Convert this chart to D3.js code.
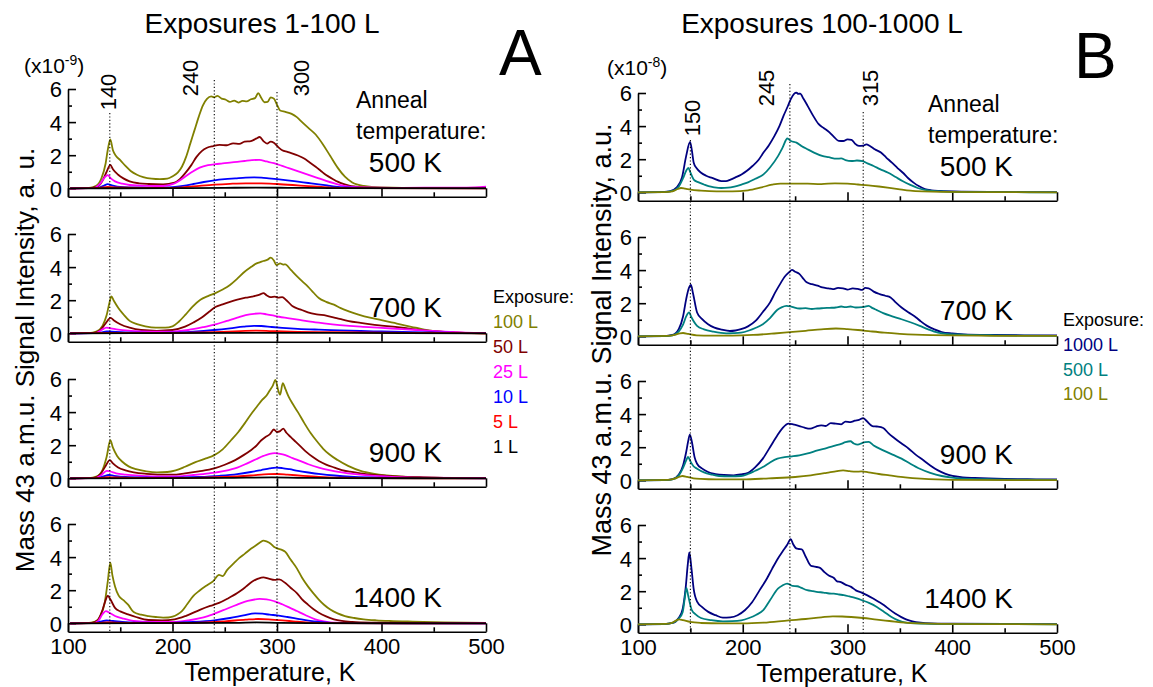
<!DOCTYPE html>
<html>
<head>
<meta charset="utf-8">
<script src="https://d3js.org/d3.v7.min.js"></script>
<style>
body { margin: 0; background: #fff; }
svg text { font-family: "Liberation Sans", Arial, sans-serif; fill: #000; }
</style>
</head>
<body>
<div id="chart"></div>
<script>
// ---- tick values and labels ----
var xTicks = [100, 200, 300, 400, 500];
var xMinor = [150, 250, 350, 450];
var yTicks = [0, 2, 4, 6];
var yMinor = [1, 3, 5];
var annealLabels = ["500 K", "700 K", "900 K", "1400 K"];
var exposuresA = ["100 L", "50 L", "25 L", "10 L", "5 L", "1 L"];
var exposuresB = ["1000 L", "500 L", "100 L"];
var peaksA = [140, 240, 300];
var peaksB = [150, 245, 315];

// ---- panel A (x1e-9), [temperature K, intensity] ----
// anneal 500 K
var a500_100 = [[102,0],[120,0.02],[127,0.15],[132,0.6],[136,1.5],[138,2.3],[140.5,2.95],[143,2.3],[146,1.95],[150,1.7],[155,1.35],[160,1.05],[166,0.82],[172,0.68],[180,0.58],[188,0.55],[195,0.58],[200,0.72],[205,0.95],[209,1.3],[213,1.9],[217,2.7],[221,3.5],[225,4.3],[229,5.0],[233,5.4],[237,5.55],[240,5.5],[243,5.58],[247,5.42],[251,5.35],[255,5.22],[259,5.3],[263,5.18],[267,5.28],[271,5.25],[275,5.38],[279,5.45],[282,5.75],[285,5.45],[288,5.2],[291,5.22],[294,5.5],[297,5.42],[300,5.05],[303,4.7],[308,4.62],[314,4.5],[319,4.3],[324,4.0],[330,3.65],[337,3.25],[344,2.65],[351,1.95],[358,1.25],[365,0.7],[372,0.35],[383,0.14],[400,0.05],[440,0.01],[480,0.02],[500,0.04]];
var a500_50 = [[102,0],[120,0.01],[128,0.1],[133,0.45],[137,1.0],[140.5,1.41],[143,1.15],[148,0.82],[153,0.6],[159,0.42],[168,0.3],[177,0.26],[191,0.24],[202,0.34],[207,0.55],[212,0.9],[218,1.4],[223,1.9],[228,2.25],[233,2.45],[239,2.55],[245,2.62],[252,2.6],[258,2.72],[264,2.68],[269,2.82],[275,2.85],[280,3.0],[283.5,3.1],[287,2.85],[290.5,2.7],[294,2.82],[297,2.75],[301,2.5],[305,2.3],[310,2.2],[315,2.1],[320,1.98],[326,1.8],[331,1.58],[337,1.3],[342,1.05],[347,0.8],[353,0.58],[358,0.4],[364,0.25],[369,0.16],[383,0.06],[400,0.02],[500,0.02]];
var a500_25 = [[102,0],[125,0.03],[131,0.3],[135,0.65],[138,0.8],[141,0.6],[145,0.42],[152,0.28],[159,0.2],[175,0.15],[191,0.14],[200,0.25],[205,0.4],[212,0.7],[219,1.0],[226,1.25],[234,1.4],[241,1.46],[248,1.5],[255,1.55],[262,1.6],[269,1.65],[276,1.7],[283,1.72],[290,1.62],[297,1.52],[305,1.35],[312,1.2],[319,1.05],[326,0.9],[333,0.75],[340,0.6],[347,0.45],[355,0.3],[362,0.18],[369,0.1],[385,0.05],[420,0.03],[470,0.04],[490,0.06],[500,0.1]];
var a500_10 = [[102,0],[128,0.02],[134,0.15],[138,0.25],[142,0.18],[150,0.08],[170,0.04],[190,0.03],[200,0.07],[210,0.15],[220,0.26],[230,0.38],[240,0.48],[250,0.55],[260,0.6],[270,0.65],[278,0.66],[285,0.64],[292,0.6],[300,0.55],[310,0.48],[320,0.4],[330,0.32],[340,0.24],[348,0.17],[356,0.1],[365,0.05],[380,0.02],[500,0.01]];
var a500_5 = [[102,0],[130,0.02],[138,0.08],[145,0.05],[170,0.02],[200,0.03],[220,0.12],[240,0.22],[255,0.27],[270,0.3],[285,0.3],[300,0.26],[315,0.2],[330,0.13],[345,0.07],[360,0.03],[380,0.01],[500,0]];
var a500_1 = [[102,0],[200,0.01],[250,0.03],[280,0.04],[310,0.03],[350,0.01],[500,0]];
// anneal 700 K
var a700_100 = [[102,0],[120,0.01],[127,0.1],[133,0.45],[137,1.1],[139.5,1.8],[141.5,2.23],[144,1.95],[148.5,1.5],[153,1.15],[159,0.75],[166,0.55],[174,0.42],[184,0.34],[193,0.34],[200,0.42],[206,0.7],[212.5,1.13],[219,1.6],[226.7,2.03],[234,2.25],[241,2.43],[248,2.65],[255,2.92],[262,3.3],[269,3.72],[275,4.0],[280,4.21],[284,4.3],[287,4.37],[291,4.45],[294,4.57],[297,4.4],[299.5,4.12],[303,4.22],[306,4.15],[308,4.17],[313,3.85],[319,3.46],[324,3.15],[329.6,2.82],[335,2.45],[340,2.13],[347,1.9],[354.5,1.73],[361,1.52],[368.7,1.33],[378,1.13],[390,0.93],[400,0.8],[411,0.64],[422,0.48],[432.6,0.34],[441,0.22],[450,0.14],[468,0.04],[485,0.01],[500,0]];
var a700_50 = [[102,0],[125,0.02],[131,0.2],[136,0.6],[140.8,0.93],[144,0.78],[150,0.55],[159,0.34],[170,0.2],[185,0.15],[200,0.2],[212,0.4],[220,0.65],[228,0.95],[235,1.3],[241,1.59],[248,1.75],[255,1.9],[262,2.03],[270,2.15],[276,2.22],[280,2.27],[284,2.35],[287,2.43],[290,2.3],[294,2.19],[298,2.22],[301,2.15],[305,2.19],[309,2.0],[315,1.63],[322,1.45],[329.6,1.27],[338,1.15],[347,1.07],[357,0.92],[368.7,0.74],[380,0.63],[390,0.54],[400,0.47],[411,0.4],[422,0.32],[432,0.24],[446,0.15],[461,0.08],[480,0.02],[500,0]];
var a700_25 = [[102,0],[127,0.03],[132,0.2],[137,0.34],[141,0.3],[148,0.22],[160,0.15],[180,0.1],[200,0.1],[215,0.2],[230,0.38],[242,0.55],[252,0.75],[262,0.95],[270,1.1],[278,1.18],[284,1.2],[290,1.15],[296,1.08],[302,1.0],[310,0.92],[320,0.82],[332,0.7],[345,0.6],[360,0.5],[380,0.4],[400,0.33],[420,0.25],[440,0.18],[460,0.1],[480,0.04],[500,0.01]];
var a700_10 = [[102,0],[130,0.03],[137,0.12],[142,0.1],[155,0.05],[180,0.03],[200,0.04],[220,0.1],[240,0.2],[255,0.3],[268,0.4],[278,0.45],[285,0.44],[295,0.38],[305,0.33],[320,0.27],[340,0.22],[360,0.18],[380,0.14],[400,0.11],[430,0.07],[460,0.04],[500,0.01]];
var a700_5 = [[102,0],[135,0.03],[150,0.02],[200,0.02],[240,0.07],[265,0.13],[280,0.16],[295,0.13],[320,0.09],[350,0.07],[400,0.04],[450,0.02],[500,0]];
var a700_1 = [[102,0],[280,0.03],[350,0.02],[500,0]];
// anneal 900 K
var a900_100 = [[102,0],[120,0.01],[127,0.1],[133,0.5],[137,1.3],[140.5,2.3],[143,1.85],[147,1.35],[152,1.0],[158,0.72],[165,0.55],[175,0.42],[185,0.36],[195,0.38],[203,0.48],[212,0.7],[222,0.98],[232,1.2],[240,1.4],[248,1.75],[256,2.3],[263,2.8],[270,3.4],[276,3.95],[281,4.35],[286,4.75],[290,5.0],[293,5.3],[296,5.6],[298.5,5.95],[301,5.35],[303,5.05],[305.5,5.75],[308,5.4],[311,4.95],[315,4.5],[320,4.0],[326,3.35],[332,2.75],[338,2.25],[344,1.8],[350,1.45],[358,1.1],[368,0.75],[380,0.45],[392,0.28],[405,0.17],[420,0.1],[450,0.04],[500,0.01]];
var a900_50 = [[102,0],[125,0.02],[131,0.25],[136,0.75],[140,1.1],[143,0.9],[148,0.65],[155,0.48],[163,0.36],[175,0.27],[188,0.22],[200,0.22],[212,0.3],[225,0.42],[240,0.6],[250,0.82],[260,1.1],[268,1.4],[275,1.7],[280,1.95],[285,2.3],[289,2.5],[293,2.65],[297,2.95],[300,2.8],[303,2.85],[306,3.0],[309,2.75],[313,2.5],[318,2.2],[323,1.9],[328,1.6],[334,1.3],[340,1.05],[347,0.83],[355,0.65],[362,0.5],[370,0.4],[380,0.3],[390,0.22],[405,0.15],[420,0.1],[440,0.06],[460,0.03],[500,0.01]];
var a900_25 = [[102,0],[127,0.03],[132,0.2],[137,0.45],[140,0.42],[146,0.3],[155,0.22],[170,0.15],[190,0.11],[205,0.12],[220,0.2],[235,0.3],[250,0.45],[262,0.65],[272,0.92],[280,1.15],[287,1.35],[293,1.48],[298,1.52],[303,1.48],[308,1.4],[315,1.22],[322,1.05],[330,0.85],[340,0.65],[350,0.5],[362,0.36],[375,0.25],[390,0.16],[410,0.09],[440,0.04],[500,0.01]];
var a900_10 = [[102,0],[128,0.02],[134,0.12],[139,0.2],[144,0.15],[155,0.08],[175,0.05],[200,0.04],[225,0.08],[245,0.15],[262,0.25],[275,0.38],[285,0.5],[293,0.6],[299,0.65],[305,0.62],[312,0.55],[320,0.45],[330,0.35],[342,0.25],[355,0.17],[370,0.1],[390,0.05],[420,0.02],[500,0]];
var a900_5 = [[102,0],[130,0.02],[138,0.07],[146,0.05],[170,0.02],[220,0.03],[250,0.08],[275,0.17],[292,0.25],[300,0.26],[310,0.22],[325,0.15],[340,0.09],[360,0.04],[390,0.01],[500,0]];
var a900_1 = [[102,0],[250,0.02],[295,0.05],[320,0.03],[360,0.01],[500,0]];
// anneal 1400 K
var a1400_100 = [[102,0],[118,0.01],[126,0.1],[131,0.45],[135,1.2],[138,2.5],[140.5,3.66],[142.5,2.9],[145,2.23],[148.5,1.67],[153,1.4],[157.5,1.13],[162.8,0.68],[170,0.52],[177,0.44],[184,0.38],[191,0.34],[196,0.35],[200,0.4],[205,0.55],[209,0.74],[214,1.15],[219.6,1.63],[226,1.98],[233.8,2.33],[239,2.55],[244.5,2.92],[248,2.85],[252,3.2],[258.6,3.62],[264,3.95],[269.3,4.21],[275,4.5],[280,4.71],[284,4.9],[287,5.0],[290,4.95],[294,4.81],[297,4.62],[301,4.51],[304,4.45],[308,4.31],[313,3.85],[319,3.32],[324,2.75],[329.6,2.23],[335,1.8],[340,1.43],[345,1.12],[351,0.83],[358,0.6],[365,0.44],[374,0.32],[383,0.24],[395,0.18],[408,0.14],[430,0.1],[460,0.06],[500,0.03]];
var a1400_50 = [[102,0],[122,0.01],[128,0.15],[133,0.8],[136,1.4],[138,1.67],[140.5,1.45],[145,0.93],[150,0.72],[157.5,0.54],[165,0.38],[177,0.2],[190,0.18],[202,0.24],[213,0.45],[226.7,0.83],[236,1.05],[244.5,1.23],[253,1.5],[262,1.83],[270,2.2],[276.4,2.52],[282,2.7],[287,2.78],[292,2.7],[297.7,2.62],[302,2.65],[308,2.43],[313,2.15],[319,1.83],[324,1.45],[329.6,1.13],[335,0.85],[340,0.64],[347,0.42],[354.5,0.24],[362,0.14],[372,0.08],[390,0.04],[430,0.02],[500,0.01]];
var a1400_25 = [[102,0],[124,0.01],[129,0.15],[133,0.55],[136.2,0.74],[140,0.62],[145,0.44],[152,0.3],[162.8,0.14],[180,0.08],[200,0.08],[215,0.18],[233.8,0.44],[248,0.78],[262,1.13],[272,1.35],[283.5,1.47],[290,1.45],[297.7,1.33],[305,1.15],[312,0.95],[319,0.74],[327,0.5],[336.7,0.24],[345,0.12],[354.5,0.04],[380,0.01],[500,0]];
var a1400_10 = [[102,0],[126,0.02],[132,0.12],[137,0.17],[143,0.14],[152,0.08],[165,0.04],[200,0.03],[220,0.08],[240,0.18],[255,0.32],[268,0.48],[279,0.6],[286,0.58],[293,0.52],[300,0.48],[310,0.38],[320,0.27],[330,0.16],[340,0.08],[352,0.03],[370,0.01],[500,0]];
var a1400_5 = [[102,0],[130,0.02],[137,0.06],[145,0.04],[170,0.01],[220,0.03],[250,0.12],[270,0.22],[282,0.26],[292,0.24],[305,0.18],[318,0.1],[330,0.04],[345,0.01],[500,0]];
var a1400_1 = [[102,0],[260,0.02],[280,0.05],[300,0.03],[330,0.01],[500,0]];

// ---- panel B (x1e-8), [temperature K, intensity] ----
var b500_1000 = [[100,0],[120,0.01],[130,0.05],[137,0.3],[142,0.9],[146,2.2],[149.7,3.05],[151.5,2.5],[153.2,1.79],[156,1.45],[160.2,1.18],[165,1.0],[170.8,0.87],[179.5,0.68],[184,0.68],[188.3,0.77],[193,0.9],[198.8,1.08],[204,1.3],[209.3,1.59],[215,1.95],[219.8,2.4],[225,2.85],[230.3,3.41],[235,4.0],[239,4.63],[243,5.2],[246,5.65],[249,5.95],[251.3,6.02],[253,5.95],[254.8,5.96],[258,5.65],[261.8,5.24],[267,4.65],[272.3,4.13],[277,3.9],[282.8,3.62],[287,3.35],[291.6,3.11],[296,3.1],[300,3.2],[303.9,3.17],[307,2.95],[310.9,2.8],[315,2.82],[318,2.9],[321.4,2.8],[326,2.6],[331.9,2.4],[337,2.1],[342.4,1.79],[348,1.45],[352.9,1.18],[358,0.85],[363.4,0.57],[368,0.38],[373.9,0.2],[380,0.12],[387.9,0.08],[410,0.04],[450,0.02],[500,0.01]];
var b500_500 = [[100,0],[125,0.01],[133,0.08],[139,0.35],[143,0.85],[146,1.3],[148,1.48],[150,1.2],[153.2,0.77],[158,0.6],[163,0.47],[167.3,0.37],[173,0.3],[179.5,0.26],[186,0.28],[192,0.35],[198.8,0.47],[205,0.6],[212,0.82],[219.8,1.08],[226,1.5],[233.8,2.2],[238,2.7],[242.6,3.25],[246,3.1],[251.3,3.0],[256,2.8],[261.8,2.6],[268,2.4],[275.8,2.2],[282,2.12],[289.8,2.03],[294,2.05],[298,1.95],[303.9,1.89],[309,1.92],[314.4,1.89],[319,1.75],[324.9,1.59],[331,1.4],[338.9,1.18],[346,0.92],[352.9,0.67],[360,0.45],[366.9,0.26],[374,0.14],[380.9,0.08],[400,0.03],[450,0.01],[500,0]];
var b500_100 = [[100,0],[125,0.01],[133,0.06],[138,0.2],[141,0.26],[145,0.22],[150,0.16],[160,0.1],[175,0.06],[190,0.06],[205,0.12],[218,0.3],[228,0.46],[236,0.53],[250,0.53],[262,0.52],[275,0.5],[288,0.54],[300,0.52],[310,0.47],[320,0.42],[330,0.35],[340,0.27],[350,0.18],[360,0.1],[372,0.05],[390,0.02],[500,0]];
var b700_1000 = [[100,0],[125,0.01],[133,0.08],[139,0.45],[143,1.2],[146,2.25],[148.5,2.9],[150.5,3.1],[152.5,2.6],[156.4,1.44],[161,1.05],[166.9,0.73],[173,0.52],[180,0.4],[187.8,0.32],[193,0.35],[198.3,0.43],[205,0.6],[212.2,0.93],[219,1.45],[226.1,2.05],[231,2.65],[236.6,3.26],[240,3.6],[244.3,3.87],[247,4.01],[250,3.9],[254,3.77],[257,3.55],[261,3.26],[266,3.15],[271.4,3.06],[276,2.95],[281.9,2.9],[286,2.85],[291,2.92],[295.8,2.9],[300,2.82],[305,2.9],[309.8,2.86],[314,2.8],[317,2.92],[320.2,2.9],[325,2.7],[330.7,2.55],[336,2.45],[341.1,2.35],[346,2.05],[351.6,1.74],[358,1.45],[365.5,1.14],[370,0.9],[376,0.63],[383,0.42],[389.9,0.26],[400,0.17],[410.8,0.12],[440,0.08],[470,0.06],[500,0.05]];
var b700_500 = [[100,0],[125,0.01],[133,0.06],[139,0.3],[143,0.7],[146,1.2],[148.8,1.44],[151,1.15],[156.4,0.63],[163,0.42],[172,0.28],[184.3,0.18],[191,0.19],[198.3,0.22],[206,0.35],[212,0.5],[219.2,0.73],[226,1.1],[233.1,1.6],[237,1.75],[241.8,1.84],[247,1.78],[254,1.68],[260,1.7],[266,1.65],[271.4,1.68],[277,1.7],[283,1.72],[288.8,1.74],[294,1.8],[298,1.76],[302.8,1.8],[308,1.74],[314,1.76],[320.2,1.84],[324,1.7],[328,1.58],[334.1,1.4],[342,1.22],[351.6,1.03],[360,0.85],[369,0.63],[377,0.42],[386.4,0.22],[395,0.14],[410,0.1],[440,0.06],[470,0.04],[500,0.03]];
var b700_100 = [[100,0],[128,0.02],[135,0.08],[140,0.18],[143,0.2],[148,0.14],[156,0.06],[170,0.04],[190,0.04],[210,0.08],[230,0.17],[245,0.25],[260,0.33],[275,0.42],[289,0.47],[300,0.43],[310,0.38],[322,0.3],[335,0.22],[350,0.15],[365,0.1],[380,0.07],[400,0.05],[440,0.03],[500,0.02]];
var b900_1000 = [[100,0],[125,0.01],[133,0.07],[139,0.35],[143,0.9],[146,1.71],[148,2.4],[149.5,2.76],[151.5,2.3],[154,1.4],[156.4,1.0],[161,0.72],[166.9,0.5],[174,0.38],[182,0.32],[191.3,0.3],[198,0.35],[205.2,0.46],[212,0.8],[219.2,1.31],[226,2.0],[233.1,2.72],[238,3.15],[243.6,3.42],[248,3.38],[254,3.28],[259,3.18],[264.5,3.12],[270,3.25],[274.9,3.32],[279,3.28],[284,3.45],[288.8,3.42],[294,3.38],[298,3.55],[302.8,3.52],[307,3.6],[311,3.65],[315,3.76],[318,3.6],[323.7,3.28],[328,3.25],[334.1,3.16],[339,2.85],[344.6,2.56],[351,2.25],[358.5,1.91],[365,1.55],[372.5,1.21],[379,0.9],[386.4,0.6],[393,0.4],[400.3,0.26],[410,0.18],[421.3,0.14],[450,0.08],[480,0.06],[500,0.05]];
var b900_500 = [[100,0],[125,0.01],[133,0.06],[139,0.3],[143,0.75],[146,1.2],[147.7,1.41],[150,1.15],[153,0.85],[156.4,0.7],[163,0.48],[170,0.35],[177.4,0.26],[188,0.24],[198.3,0.26],[205,0.38],[212,0.58],[219.2,0.8],[226,1.08],[233.1,1.31],[240,1.4],[247,1.45],[254,1.51],[262,1.62],[271.4,1.81],[280,1.95],[288.8,2.11],[294,2.2],[298,2.3],[302.8,2.36],[306,2.22],[309.8,2.15],[314,2.25],[317,2.3],[320.2,2.32],[325,2.1],[334.1,1.81],[343,1.55],[351.6,1.31],[360,1.0],[369,0.7],[379,0.45],[389.9,0.26],[400,0.16],[410.8,0.1],[440,0.06],[470,0.04],[500,0.03]];
var b900_100 = [[100,0],[128,0.02],[135,0.1],[140,0.22],[142.5,0.26],[147,0.2],[153,0.12],[160,0.08],[175,0.05],[200,0.05],[225,0.12],[250,0.2],[265,0.3],[280,0.45],[290,0.56],[295.8,0.6],[302,0.55],[308,0.52],[313.2,0.54],[320,0.48],[330,0.38],[340,0.3],[355,0.18],[370,0.1],[385,0.05],[400,0.03],[500,0.01]];
var b1400_1000 = [[100,0],[125,0.01],[133,0.08],[139,0.4],[142.7,0.95],[145.5,2.2],[147.5,3.6],[149,4.34],[151,3.4],[153.1,2.16],[156.6,1.35],[161,1.05],[167.1,0.75],[174,0.55],[181.1,0.4],[188,0.42],[195.1,0.55],[202,0.85],[209.1,1.35],[216,2.05],[223.1,2.77],[228,3.35],[233.6,3.98],[238,4.4],[242.3,4.79],[245.8,5.15],[248,4.85],[251,4.59],[253.5,4.55],[256.3,4.53],[260,4.1],[265,3.54],[269,3.48],[273.8,3.41],[278,3.15],[282.5,2.93],[287,2.8],[290,2.6],[293,2.57],[298,2.4],[303.5,2.26],[308,2.05],[314,1.9],[319,1.75],[324.5,1.56],[330,1.35],[335,1.15],[340,0.9],[345.5,0.65],[351,0.45],[355.9,0.3],[362,0.18],[369.9,0.1],[380,0.06],[400,0.04],[450,0.02],[500,0.01]];
var b1400_500 = [[100,0],[125,0.01],[133,0.08],[139,0.35],[142.7,0.75],[144.5,1.5],[146.2,2.2],[148,1.7],[151.4,0.85],[155,0.6],[160.1,0.38],[170,0.25],[181.1,0.18],[190,0.19],[198.6,0.24],[206,0.38],[213,0.58],[219.6,0.85],[226,1.45],[233.6,2.16],[238,2.35],[242.3,2.46],[245,2.4],[247.6,2.32],[252,2.3],[256,2.2],[261.5,2.06],[267,2.0],[272,1.95],[277,1.92],[282.5,1.86],[287,1.85],[292,1.8],[296.5,1.76],[302,1.68],[308,1.58],[314,1.45],[321,1.28],[328,1.05],[335,0.75],[342,0.44],[349,0.22],[355.9,0.1],[365,0.05],[390,0.02],[500,0]];
var b1400_100 = [[100,0],[126,0.02],[133,0.1],[137,0.25],[139.2,0.3],[143,0.25],[149.7,0.14],[160,0.08],[180,0.05],[200,0.05],[220,0.1],[244,0.24],[260,0.32],[275,0.42],[286,0.48],[295,0.47],[303.5,0.44],[315,0.38],[328,0.28],[340,0.2],[355,0.1],[370,0.05],[390,0.02],[500,0]];

var seriesA = [
  [a500_100, a500_50, a500_25, a500_10, a500_5, a500_1],
  [a700_100, a700_50, a700_25, a700_10, a700_5, a700_1],
  [a900_100, a900_50, a900_25, a900_10, a900_5, a900_1],
  [a1400_100, a1400_50, a1400_25, a1400_10, a1400_5, a1400_1]
];
var seriesB = [
  [b500_1000, b500_500, b500_100],
  [b700_1000, b700_500, b700_100],
  [b900_1000, b900_500, b900_100],
  [b1400_1000, b1400_500, b1400_100]
];
var colorsA = ["#808000", "#800000", "#ff00ff", "#0000ff", "#ff0000", "#000000"];
var colorsB = ["#000080", "#008080", "#808000"];

var svg = d3.select("#chart").append("svg").attr("width", 1153).attr("height", 687);

function drawPanel(p) {
  var x = d3.scaleLinear().domain([100, 500]).range([p.left, p.right]);
  var g = svg.append("g");
  var lastBottom = 0;

  p.series.forEach(function(group, i) {
    var top = p.top + i * p.step;
    var bottom = top + 107.8;
    lastBottom = bottom;
    var y = d3.scaleLinear().domain([-0.5136, 6]).range([bottom, top]);

    // y axis, ticks point inward
    var ya = g.append("g").attr("transform", "translate(" + p.left + ",0)")
      .call(d3.axisLeft(y).tickValues(yTicks).tickSize(-8).tickSizeOuter(0).tickPadding(6)
        .tickFormat(d3.format("d")));
    ya.selectAll("text").attr("font-size", 22).attr("font-family", null).attr("dy", "0.36em");
    g.append("g").attr("transform", "translate(" + p.left + ",0)")
      .call(d3.axisLeft(y).tickValues(yMinor).tickSize(-4).tickFormat(""))
      .select(".domain").remove();

    // x axis, ticks point up
    var xa = g.append("g").attr("transform", "translate(0," + bottom + ")")
      .call(d3.axisBottom(x).tickValues(xTicks).tickSize(-8.5).tickSizeOuter(0).tickPadding(7)
        .tickFormat(i === 3 ? d3.format("d") : ""));
    xa.selectAll("text").attr("font-size", 22).attr("font-family", null);
    g.append("g").attr("transform", "translate(0," + bottom + ")")
      .call(d3.axisBottom(x).tickValues(xMinor).tickSize(-4.5).tickFormat(""))
      .select(".domain").remove();

    var line = d3.line()
      .x(function(d) { return x(d[0]); })
      .y(function(d) { return y(d[1]); })
      .curve(d3.curveMonotoneX);

    g.selectAll(".curve" + i).data(group).enter().append("path")
      .attr("class", "curve" + i)
      .attr("fill", "none")
      .attr("stroke", function(d, k) { return p.colors[k]; })
      .attr("stroke-width", 1.8)
      .attr("stroke-linejoin", "round")
      .attr("d", line);

    // anneal temperature label
    g.append("text").attr("x", p.kx).attr("y", p.ky + i * p.step)
      .attr("text-anchor", "end").attr("font-size", 28).text(annealLabels[i]);
  });

  g.selectAll(".domain, .tick line").attr("stroke", "#000").attr("stroke-width", 1.6);

  // dotted marker lines with rotated labels
  p.peaks.forEach(function(t, k) {
    g.append("line")
      .attr("x1", x(t)).attr("x2", x(t))
      .attr("y1", p.peakTop[k]).attr("y2", lastBottom)
      .attr("stroke", "#000").attr("stroke-width", 1.1)
      .attr("stroke-dasharray", "1.2,2.2");
    g.append("text")
      .attr("transform", "translate(" + p.peakLabel[k][0] + "," + p.peakLabel[k][1] + ") rotate(-90)")
      .attr("text-anchor", "middle").attr("dy", "0.36em")
      .attr("font-size", 22).text(t);
  });

  // titles and labels
  svg.append("text").attr("x", p.titleX).attr("y", 33).attr("text-anchor", "middle")
    .attr("font-size", 28).text(p.title);
  svg.append("text").attr("x", p.letterX).attr("y", p.letterY).attr("font-size", 64).text(p.letter);
  var ex = svg.append("text").attr("x", p.expX).attr("y", p.expY).attr("font-size", 21);
  ex.append("tspan").text("(x10");
  ex.append("tspan").attr("dy", -8).attr("font-size", 14).text(p.exponent);
  ex.append("tspan").attr("dy", 8).text(")");
  svg.append("text")
    .attr("transform", "translate(" + p.yLabel[0] + "," + p.yLabel[1] + ") rotate(-90)")
    .attr("text-anchor", "middle").attr("dy", "0.36em")
    .attr("font-size", p.yLabelSize).text(p.yTitle);
  svg.append("text").attr("x", p.xLabelX).attr("y", p.xLabelY).attr("text-anchor", "middle")
    .attr("font-size", 25).text("Temperature, K");

  svg.append("text").attr("x", p.annealX).attr("y", p.annealY).attr("font-size", 23).text("Anneal");
  svg.append("text").attr("x", p.annealX).attr("y", p.annealY + 31).attr("font-size", 23).text("temperature:");

  // legend
  svg.append("text").attr("x", p.legX).attr("y", p.legY).attr("font-size", 18).text("Exposure:");
  p.exposures.forEach(function(lbl, k) {
    svg.append("text").attr("x", p.legX).attr("y", p.legY + 25 + k * p.legStep)
      .attr("font-size", 18).style("fill", p.colors[k]).text(lbl);
  });
}

drawPanel({
  series: seriesA, colors: colorsA, exposures: exposuresA, peaks: peaksA,
  left: 68, right: 486, top: 89, step: 145,
  kx: 442, ky: 172,
  peakTop: [113, 80, 92], peakLabel: [[108, 92], [190, 78], [301, 78]],
  title: "Exposures 1-100 L", titleX: 262, letter: "A", letterX: 499, letterY: 75,
  exponent: "-9", expX: 24, expY: 73,
  yTitle: "Mass 43 a.m.u. Signal Intensity, a. u.", yLabel: [25, 360], yLabelSize: 26,
  xLabelX: 270, xLabelY: 681, annealX: 356, annealY: 108,
  legX: 493, legY: 303, legStep: 25
});
drawPanel({
  series: seriesB, colors: colorsB, exposures: exposuresB, peaks: peaksB,
  left: 638, right: 1057, top: 93, step: 144,
  kx: 1013, ky: 176,
  peakTop: [140, 84, 112], peakLabel: [[692, 118], [766, 88], [870, 88]],
  title: "Exposures 100-1000 L", titleX: 822, letter: "B", letterX: 1074, letterY: 78,
  exponent: "-8", expX: 607, expY: 75,
  yTitle: "Mass 43 a.m.u. Signal Intensity, a.u.", yLabel: [601, 340], yLabelSize: 27,
  xLabelX: 842, xLabelY: 682, annealX: 928, annealY: 112,
  legX: 1063, legY: 326, legStep: 24.5
});
</script>
</body>
</html>
